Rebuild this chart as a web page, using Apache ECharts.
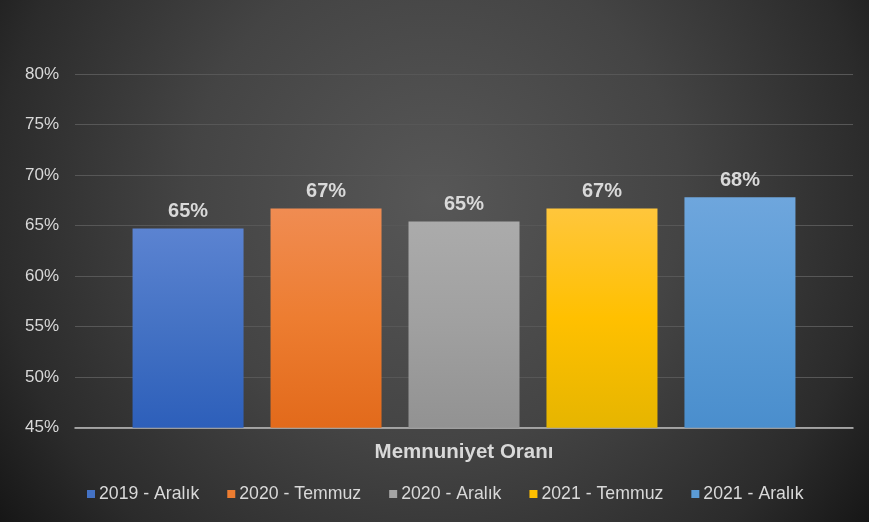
<!DOCTYPE html>
<html>
<head>
<meta charset="utf-8">
<script src="https://cdn.jsdelivr.net/npm/echarts@6/dist/echarts.min.js"></script>
<style>
  html, body { margin: 0; padding: 0; background: #000; }
  #chart { width: 869px; height: 522px; }
</style>
</head>
<body>
<div id="chart"></div>
<script>
// kategori ve seriler
var categories = ['Memnuniyet Oranı'];
var seriesNames = ['2019 - Aralık', '2020 - Temmuz', '2020 - Aralık', '2021 - Temmuz', '2021 - Aralık'];
var seriesValues = [64.7, 66.7, 65.4, 66.7, 67.8];
var yTicks = [45, 50, 55, 60, 65, 70, 75, 80];

// renkler: üst, orta, alt
var barColors = [
  ['#5b83d1', '#4472c4', '#2d5fba'],
  ['#f08c52', '#ed7d31', '#e26a1b'],
  ['#ababab', '#a0a0a0', '#929292'],
  ['#ffc63c', '#ffc000', '#e6b500'],
  ['#6ea6dd', '#5b9bd5', '#4a8ecd']
];
var legendColors = ['#4472c4', '#ed7d31', '#a5a5a5', '#ffc000', '#5b9bd5'];

var textColor = '#d9d9d9';
var font = 'Arial, "Liberation Sans", sans-serif';

var series = [];
for (let i = 0; i < seriesNames.length; i++) {
  series.push({
    name: seriesNames[i],
    type: 'bar',
    barWidth: 111,
    barGap: '24.3%',
    data: [seriesValues[i]],
    itemStyle: {
      color: {
        type: 'linear', x: 0, y: 0, x2: 0, y2: 1,
        colorStops: [
          { offset: 0, color: barColors[i][0] },
          { offset: 0.5, color: barColors[i][1] },
          { offset: 1, color: barColors[i][2] }
        ]
      }
    },
    label: {
      show: true,
      position: 'top',
      distance: 7,
      color: textColor,
      fontFamily: font,
      fontWeight: 'bold',
      fontSize: 20,
      formatter: function (p) { return Math.round(p.value) + '%'; }
    }
  });
}

var option = {
  animation: false,
  backgroundColor: {
    type: 'radial', x: 0.5, y: 0.38, r: 1.05,
    colorStops: [
      { offset: 0, color: '#575757' },
      { offset: 0.45, color: '#444444' },
      { offset: 0.8, color: '#2b2b2b' },
      { offset: 1, color: '#151515' }
    ]
  },
  legend: {
    data: seriesNames.map(function (n, i) { return { name: n, itemStyle: { color: legendColors[i] } }; }),
    left: 82,
    top: 480,
    icon: 'rect',
    itemWidth: 8,
    itemHeight: 8,
    itemGap: 28,
    textStyle: { color: textColor, fontFamily: font, fontSize: 17.7, padding: [0, 0, 0, -1] }
  },
  grid: { left: 75, right: 16, top: 74, bottom: 94.3, containLabel: false },
  xAxis: {
    type: 'category',
    data: categories,
    name: categories[0],
    nameLocation: 'middle',
    nameGap: 14,
    nameTextStyle: { color: textColor, fontFamily: font, fontWeight: 'bold', fontSize: 20.5 },
    axisLine: { lineStyle: { color: '#bfbfbf', width: 1.5 } },
    axisTick: { show: false },
    axisLabel: { show: false }
  },
  yAxis: {
    type: 'value',
    min: yTicks[0],
    max: yTicks[yTicks.length - 1],
    interval: 5,
    axisLine: { show: false },
    axisTick: { show: false },
    splitLine: { lineStyle: { color: '#575757', width: 1 } },
    axisLabel: {
      color: textColor,
      fontFamily: font,
      fontSize: 17,
      margin: 16,
      formatter: '{value}%'
    }
  },
  series: series
};

var chart = echarts.init(document.getElementById('chart'));
chart.setOption(option);
</script>
</body>
</html>
